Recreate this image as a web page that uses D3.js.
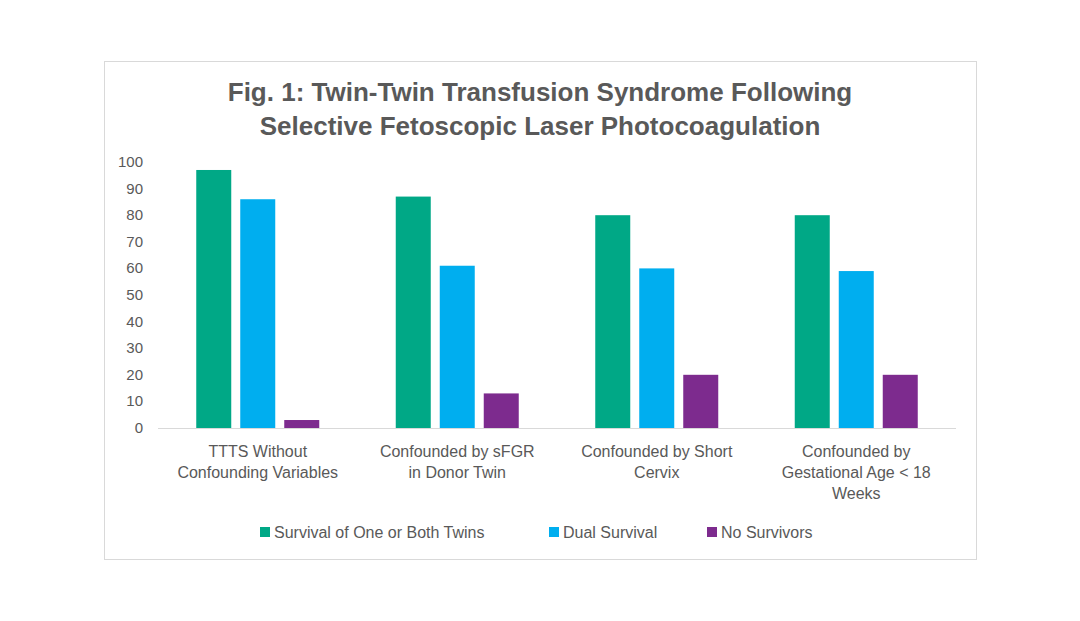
<!DOCTYPE html>
<html><head><meta charset="utf-8">
<script src="https://cdn.jsdelivr.net/npm/d3@7"></script>
<style>body{margin:0;background:#fff}</style>
</head><body>
<script>
// 各カテゴリーの値
var CATEGORIES = [['TTTS Without', 'Confounding Variables'],
                  ['Confounded by sFGR', 'in Donor Twin'],
                  ['Confounded by Short', 'Cervix'],
                  ['Confounded by', 'Gestational Age < 18', 'Weeks']];
var SERIES = ['Survival of One or Both Twins', 'Dual Survival', 'No Survivors'];
var COLORS = ['#00A886', '#00AEEF', '#7D2B8E'];
var ONE_OR_BOTH = [97, 87, 80, 80];
var DUAL = [86, 61, 60, 59];
var NONE = [3, 13, 20, 20];
var Y_TICKS = [0, 10, 20, 30, 40, 50, 60, 70, 80, 90, 100];

var W = 1080, H = 621, ml = 158, mr = 956, mt = 162, mb = 428;
var svg = d3.select('body').append('svg').attr('width', W).attr('height', H)
    .style('font-family', 'Arial, "Liberation Sans", sans-serif');

svg.append('rect').attr('x', 104.5).attr('y', 61.5).attr('width', 872).attr('height', 498)
    .attr('fill', '#fff').attr('stroke', '#d9d9d9');

svg.append('text').attr('x', 540).attr('y', 101).attr('text-anchor', 'middle')
    .attr('font-size', 26).attr('font-weight', 'bold').attr('fill', '#595959')
    .text('Fig. 1: Twin-Twin Transfusion Syndrome Following');
svg.append('text').attr('x', 540).attr('y', 135).attr('text-anchor', 'middle')
    .attr('font-size', 26).attr('font-weight', 'bold').attr('fill', '#595959')
    .text('Selective Fetoscopic Laser Photocoagulation');

var x = d3.scaleBand().domain(d3.range(4)).range([ml, mr]);
var y = d3.scaleLinear().domain([0, 100]).range([mb, mt]);
var bw = 35, gap = 9;

Y_TICKS.forEach(function (t) {
    svg.append('text').attr('x', 143).attr('y', y(t) + 5).attr('text-anchor', 'end')
        .attr('font-size', 15).attr('fill', '#595959').text(t);
});

[ONE_OR_BOTH, DUAL, NONE].forEach(function (vals, k) {
    svg.selectAll(null).data(vals).enter().append('rect')
        .attr('x', function (d, i) { return x(i) + x.bandwidth() / 2 - 1.5 * bw - gap + k * (bw + gap); })
        .attr('y', function (d) { return y(d); })
        .attr('width', bw)
        .attr('height', function (d) { return mb - y(d); })
        .attr('fill', COLORS[k]);
});

svg.append('line').attr('x1', ml).attr('x2', mr).attr('y1', mb + 0.5).attr('y2', mb + 0.5)
    .attr('stroke', '#d9d9d9');

CATEGORIES.forEach(function (lines, i) {
    lines.forEach(function (s, j) {
        svg.append('text').attr('x', x(i) + x.bandwidth() / 2).attr('y', 457 + j * 21)
            .attr('text-anchor', 'middle').attr('font-size', 16).attr('fill', '#595959').text(s);
    });
});

// 凡例
var lx = [260, 549, 707];
SERIES.forEach(function (s, k) {
    svg.append('rect').attr('x', lx[k]).attr('y', 527).attr('width', 10).attr('height', 10)
        .attr('fill', COLORS[k]);
    svg.append('text').attr('x', lx[k] + 14).attr('y', 538).attr('font-size', 16)
        .attr('fill', '#595959').text(s);
});
</script>
</body></html>
